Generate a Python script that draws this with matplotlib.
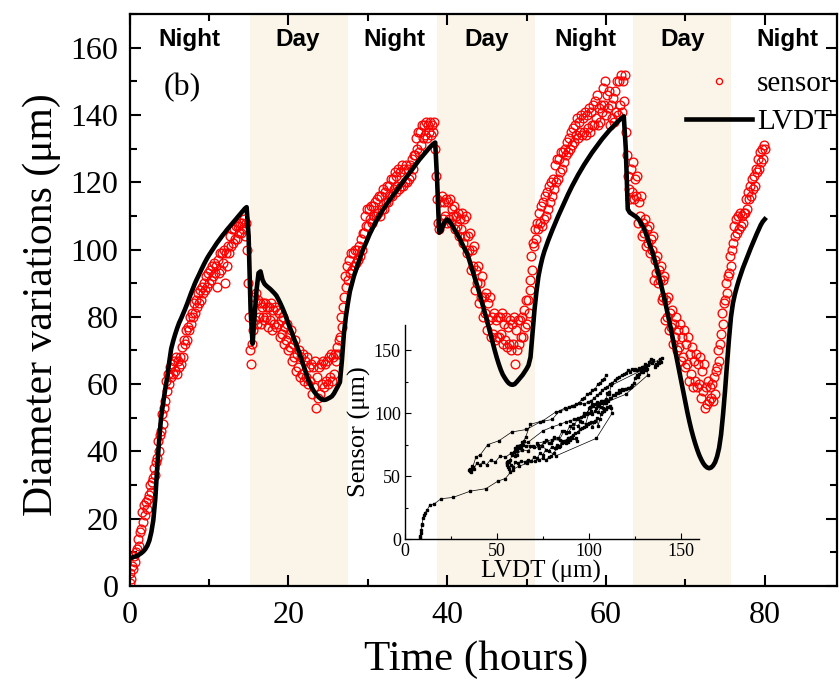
import numpy as np
import matplotlib
matplotlib.use("Agg")
import matplotlib.pyplot as plt
from matplotlib.ticker import MultipleLocator

# ---------------- data ----------------
lvdt_time_h = np.arange(0, 80.001, 0.25)     # LVDT sampling grid, hours
sensor_time_h = np.arange(0, 80.001, 0.125)  # sensor sampling grid, hours

lvdt_um = [
    8.3, 8.4, 8.6, 8.8,  9.0, 9.4, 9.8, 10.3,  11.0, 12.0, 13.5, 16.0,  19.6, 26.0, 35.5, 44.0,
    50.5, 54.5, 58.5, 62.0,  66.5, 70.5, 72.8, 74.8,  76.6, 78.2, 79.5, 80.9,  82.3, 83.8, 85.4, 87.0,
    88.5, 90.0, 91.3, 92.5,  93.8, 95.0, 96.2, 97.3,  98.3, 99.2, 100.1, 101.0,  101.9, 102.7, 103.5, 104.3,
    105.0, 105.8, 106.5, 107.2,  107.9, 108.6, 109.3, 110.0,  110.7, 111.4, 112.1, 112.6,  104.0, 82.0, 72.0, 80.0,
    88.0, 93.0, 93.5, 91.0,  89.8, 89.2, 88.7, 88.2,  87.6, 87.0, 86.3, 85.2,  84.0, 82.7, 81.3, 79.7,
    78.0, 76.5, 75.0, 73.3,  71.8, 70.2, 68.5, 66.8,  65.0, 63.2, 61.3, 60.0,  58.8, 57.8, 57.0, 56.3,
    55.8, 55.4, 55.3, 55.4,  55.7, 56.0, 56.4, 57.2,  58.3, 59.4, 60.6, 67.0,  75.0, 80.0, 84.0, 87.5,
    89.8, 92.0, 93.8, 95.5,  97.3, 99.0, 100.5, 101.8,  103.2, 104.6, 105.8, 107.0,  108.1, 109.2, 110.2, 111.2,
    112.1, 113.0, 113.9, 114.7,  115.5, 116.3, 117.1, 117.9,  118.7, 119.5, 120.3, 121.1,  121.9, 122.7, 123.5, 124.3,
    125.1, 125.9, 126.7, 127.4,  128.1, 128.8, 129.5, 130.2,  130.8, 131.4, 131.8, 120.0,  105.0, 105.5, 107.2, 108.5,
    108.9, 108.5, 107.7, 106.7,  105.6, 104.6, 103.6, 102.4,  101.2, 100.0, 98.9, 97.2,  95.3, 93.5, 91.5, 89.6,
    87.6, 85.5, 83.4, 81.2,  79.1, 76.8, 74.5, 72.2,  70.0, 67.9, 66.0, 64.3,  62.9, 61.9, 61.0, 60.3,
    59.9, 59.8, 60.0, 60.6,  61.3, 62.0, 62.7, 63.6,  64.5, 65.6, 68.0, 75.0,  82.0, 87.5, 92.0, 95.0,
    97.5, 99.5, 101.2, 102.8,  104.3, 105.8, 107.2, 108.6,  110.0, 111.3, 112.6, 113.9,  115.2, 116.5, 117.7, 118.9,
    120.0, 121.1, 122.2, 123.2,  124.2, 125.2, 126.1, 127.0,  127.9, 128.8, 129.6, 130.4,  131.2, 132.0, 132.8, 133.5,
    134.2, 134.9, 135.6, 136.2,  136.8, 137.4, 138.0, 138.6,  139.1, 139.6, 130.0, 112.0,  111.0, 110.6, 110.2, 109.8,
    109.3, 108.5, 107.5, 106.5,  105.0, 103.3, 101.6, 99.9,  98.1, 96.0, 93.8, 91.4,  89.0, 86.5, 84.0, 81.2,
    78.5, 75.6, 72.6, 69.6,  66.6, 63.6, 60.6, 57.5,  54.6, 51.7, 49.0, 46.5,  44.3, 42.3, 40.5, 38.9,
    37.6, 36.5, 35.7, 35.2,  35.0, 35.2, 35.8, 36.8,  38.5, 41.0, 45.0, 51.0,  58.0, 66.0, 73.5, 80.0,
    84.1, 86.8, 89.0, 91.0,  92.8, 94.5, 96.0, 97.5,  99.0, 100.5, 101.9, 103.3,  104.7, 106.0, 107.3, 108.3,
    109.0,
]

sensor_um = [
    1, 4, 2, 6, 5, 9, 7, 10,            11, 14, 12, 16, 17, 22, 19, 24,
    21, 25, 23, 26, 27, 30, 28, 31,     32, 35, 33, 37, 38, 43, 40, 45,
    46, 51, 48, 53, 55, 61, 58, 63,     60, 65, 62, 66, 63, 67, 64, 68,
    63, 67, 65, 68, 66, 71, 68, 73,     72, 76, 73, 77, 76, 80, 78, 81,
    80, 84, 81, 85, 83, 87, 84, 88,     85, 89, 87, 90, 88, 92, 89, 93,
    90, 94, 91, 95, 92, 96, 93, 95,     89, 97, 93, 99, 94, 99, 96, 100,
    90, 99, 95, 101, 99, 104, 101, 106, 102, 106, 103, 107, 103, 107, 105, 108,
    105, 108, 106, 109, 104, 108, 100, 90,  80, 70, 66, 72, 76, 86, 79, 87,
    78, 85, 80, 84, 78, 83, 80, 84,     79, 84, 80, 83, 77, 83, 79, 84,
    76, 82, 78, 83, 77, 82, 78, 81,     74, 79, 75, 80, 72, 77, 73, 78,
    70, 75, 71, 76, 67, 72, 68, 73,     64, 69, 65, 70, 62, 68, 63, 69,
    61, 67, 62, 68, 60, 65, 61, 66,     57, 65, 59, 67, 53, 62, 56, 65,
    57, 66, 60, 67, 59, 66, 61, 67,     60, 68, 62, 69, 61, 68, 63, 69,
    67, 71, 69, 73, 74, 80, 77, 83,     86, 92, 89, 95, 91, 97, 93, 99,
    94, 99, 95, 100, 96, 100, 97, 101,  98, 103, 100, 105, 105, 110, 107, 112,
    107, 112, 109, 113, 108, 113, 110, 114,  110, 115, 111, 116, 110, 116, 112, 118,
    112, 117, 114, 119, 114, 119, 116, 121,  116, 121, 118, 123, 117, 122, 119, 124,
    118, 123, 119, 125, 119, 124, 120, 125,  120, 124, 121, 125, 122, 127, 124, 128,
    128, 133, 130, 135, 129, 135, 131, 137,  133, 137, 134, 138, 133, 137, 135, 138,
    134, 137, 135, 138, 130, 122, 115, 108,  106, 114, 108, 116, 109, 114, 110, 115,
    108, 114, 109, 115, 108, 112, 110, 113,  106, 110, 107, 111, 104, 109, 106, 111,
    102, 109, 104, 110, 99, 104, 100, 105,   94, 100, 95, 101, 88, 94, 90, 95,
    84, 90, 86, 92, 80, 86, 81, 87,     76, 84, 79, 86, 74, 80, 75, 81,
    73, 79, 74, 80, 74, 80, 75, 81,     72, 78, 73, 80, 71, 77, 72, 79,
    70, 78, 72, 80, 66, 76, 70, 79,     72, 79, 74, 80, 74, 82, 77, 85,
    78, 85, 81, 88, 91, 98, 94, 102,    101, 106, 103, 108, 106, 111, 108, 113,
    107, 114, 109, 116, 110, 117, 112, 119,  114, 120, 116, 121, 118, 125, 120, 127,
    121, 127, 123, 129, 124, 129, 126, 130,  128, 132, 129, 133, 130, 135, 131, 136,
    132, 137, 134, 139, 133, 138, 135, 140,  134, 139, 135, 141, 134, 140, 136, 142,
    135, 141, 137, 143, 137, 144, 139, 146,  137, 142, 138, 143, 141, 148, 143, 150,
    140, 146, 142, 147, 137, 143, 139, 145,  138, 147, 141, 150, 140, 150, 143, 152,
    141, 150, 144, 152, 135, 128, 122, 118,  115, 124, 117, 126, 115, 121, 116, 122,
    108, 114, 110, 116, 104, 108, 105, 109,  101, 106, 102, 107, 99, 103, 100, 104,
    91, 97, 93, 98, 90, 94, 91, 95,     85, 91, 86, 92, 79, 85, 80, 86,
    76, 81, 77, 82, 72, 78, 74, 80,     70, 76, 71, 78, 67, 74, 68, 76,
    65, 72, 66, 74, 61, 69, 63, 71,     59, 67, 61, 69, 59, 66, 60, 68,
    56, 64, 58, 66, 53, 59, 54, 61,     55, 59, 56, 60, 55, 62, 57, 64,
    65, 70, 67, 72, 75, 81, 78, 84,     85, 90, 87, 92, 93, 98, 95, 100,
    102, 107, 104, 109, 105, 110, 106, 111,  107, 110, 108, 111, 111, 115, 112, 117,
    115, 119, 116, 121, 118, 122, 119, 124,  123, 127, 124, 129, 126, 130, 127, 131,
    130,
]

day_start_h = [15.2, 38.7, 63.4]
day_end_h = [27.5, 51.1, 75.8]
period_labels = ["Night", "Day", "Night", "Day", "Night", "Day", "Night"]
period_center_h = [7.6, 21.2, 33.3, 45.0, 57.4, 69.7, 82.9]

# ---------------- figure ----------------
plt.rcParams["font.family"] = ["Liberation Serif", "DejaVu Serif"]

W, H = 840, 684
fig = plt.figure(figsize=(W / 100, H / 100), dpi=100)
fig.patch.set_facecolor("white")

ax = fig.add_axes([129.5 / W, 98 / H, 707.5 / W, 572 / H])
ax.set_xlim(0, 89.1)
ax.set_ylim(0, 170)

for a, b in zip(day_start_h, day_end_h):
    ax.axvspan(a, b, color="#FAF5E8", lw=0, zorder=0)

ax.plot(sensor_time_h, sensor_um, ls="none", marker="o", ms=6.3, mfc="none",
        mec="#FF0000", mew=0.95, label="sensor", zorder=2)
ax.plot(lvdt_time_h, lvdt_um, color="black", lw=3.3, label="LVDT", zorder=3,
        solid_joinstyle="round")

for lab, xc in zip(period_labels, period_center_h):
    ax.text(xc, 162.5, lab, ha="center", va="center", fontsize=17.5,
            fontweight="bold", family=["Liberation Sans", "DejaVu Sans"], zorder=4)

ax.text(6.7, 148, "(b)", ha="center", va="center", fontsize=23, zorder=4)

ax.xaxis.set_major_locator(MultipleLocator(20))
ax.xaxis.set_minor_locator(MultipleLocator(10))
ax.yaxis.set_major_locator(MultipleLocator(20))
ax.yaxis.set_minor_locator(MultipleLocator(10))
ax.tick_params(which="both", direction="in", top=True, right=True, width=1.5)
ax.tick_params(which="major", length=8, labelsize=23)
ax.tick_params(axis="x", which="major", pad=11)
ax.tick_params(axis="y", which="major", pad=8)
ax.tick_params(which="minor", length=5)
for s in ax.spines.values():
    s.set_linewidth(1.6)

ax.legend(loc="center left", bbox_to_anchor=(0.7866, 0.8444), frameon=False,
          fontsize=21, handlelength=2.27, handletextpad=0.17, labelspacing=0.4,
          borderpad=0, borderaxespad=0, markerscale=0.7, numpoints=1)

fig.text(42 / W, 1 - 305 / H, "Diameter variations (\u03bcm)", rotation=90,
         ha="center", va="center", fontsize=30)
fig.text(476 / W, 1 - 660 / H, "Time (hours)", ha="center", va="center", fontsize=31)

# ---------------- inset: sensor vs LVDT (same time stamps) ----------------
sensor_at_lvdt = np.asarray(sensor_um)[::2]

axin = fig.add_axes([405 / W, 145 / H, 294.4 / W, 214 / H])
axin.set_facecolor("none")
axin.set_xlim(0, 160)
axin.set_ylim(0, 170)
axin.plot(lvdt_um, sensor_at_lvdt, color="black", lw=0.5, marker="s", ms=2.0,
          zorder=3)
axin.spines["top"].set_visible(False)
axin.spines["right"].set_visible(False)
for s in ("left", "bottom"):
    axin.spines[s].set_linewidth(1.0)
axin.xaxis.set_major_locator(MultipleLocator(50))
axin.xaxis.set_minor_locator(MultipleLocator(25))
axin.yaxis.set_major_locator(MultipleLocator(50))
axin.yaxis.set_minor_locator(MultipleLocator(25))
axin.tick_params(which="both", direction="in", width=0.8, labelsize=13, pad=3)
axin.tick_params(which="major", length=4)
axin.tick_params(which="minor", length=2.5)

fig.text(541 / W, 1 - 571 / H, "LVDT (\u03bcm)", ha="center", va="center", fontsize=18)
fig.text(359 / W, 1 - 432 / H, "Sensor (\u03bcm)", rotation=90, ha="center",
         va="center", fontsize=19)

fig.savefig("out.png", dpi=100)
